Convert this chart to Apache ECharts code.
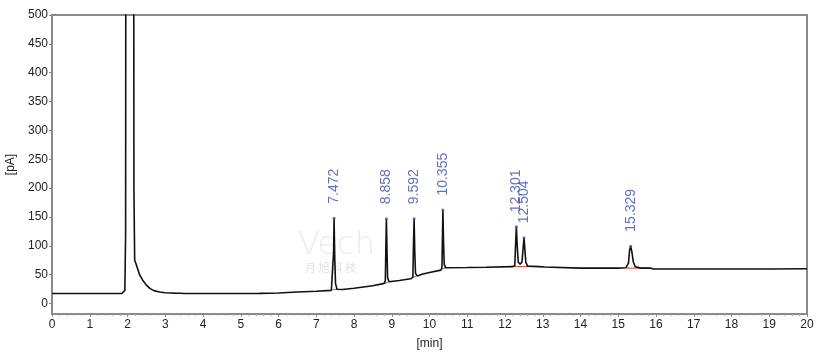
<!DOCTYPE html>
<html>
<head>
<meta charset="utf-8">
<script src="https://cdn.jsdelivr.net/npm/echarts@6/dist/echarts.min.js"></script>
<style>
  html, body { margin: 0; padding: 0; background: #fff; }
  #chart { width: 817px; height: 352px; }
</style>
</head>
<body>
<div id="chart"></div>
<script>
// detector trace, time [min] / signal [pA]
var traceTime = [0, 1.0, 1.85, 1.9, 1.93, 1.95, 1.97, 2.15, 2.17, 2.19, 2.22, 2.25, 2.27, 2.32, 2.4, 2.5, 2.6, 2.7, 2.85, 3.0, 3.15, 3.2, 3.25, 3.4, 3.5, 4.0, 4.05, 4.1, 5.0, 5.5, 6.0, 6.5, 7.0, 7.4, 7.44, 7.46, 7.472, 7.49, 7.51, 7.55, 7.7, 8.0, 8.5, 8.8, 8.83, 8.845, 8.858, 8.875, 8.89, 8.93, 9.2, 9.5, 9.56, 9.575, 9.592, 9.61, 9.63, 9.68, 9.8, 10.0, 10.3, 10.33, 10.345, 10.355, 10.37, 10.39, 10.43, 11.0, 11.5, 12.2, 12.26, 12.285, 12.301, 12.32, 12.35, 12.4, 12.45, 12.485, 12.504, 12.52, 12.55, 12.6, 12.9, 13.05, 13.1, 14.0, 15.0, 15.2, 15.27, 15.3, 15.329, 15.36, 15.4, 15.45, 15.6, 15.85, 15.92, 17.0, 18.0, 19.0, 20.0];
var traceSignal = [17.5, 17.5, 17.6, 19, 23, 120, 2000, 2000, 200, 75, 70, 68, 60, 50, 41, 32, 26, 22.5, 20, 18.8, 18.5, 20, 18.2, 18, 17.6, 17.4, 18.8, 17.4, 17.5, 17.8, 18.5, 20, 21.5, 23, 26, 90, 148, 80, 35, 25, 24.5, 26.5, 31, 35, 40, 100, 147, 90, 45, 38, 40, 43, 46, 100, 147, 90, 52, 48, 51, 54, 58, 62, 120, 162, 110, 68, 62, 62.5, 63, 64, 66, 110, 133, 105, 72, 68, 72, 100, 114, 100, 72, 65, 64, 63.5, 62, 61.5, 61.5, 62, 70, 92, 99.5, 90, 72, 64, 61.5, 61.5, 60, 60, 60, 60, 60.5];

// labelled peaks
var peakTime = [7.472, 8.858, 9.592, 10.355, 12.301, 12.504, 15.329];
var peakHeight = [148, 147, 147, 162, 133, 114, 99.5];

// integration baselines (red) under the peaks
var baseFrom = [7.43, 8.82, 9.55, 10.32, 12.24, 15.22];
var baseTo = [7.56, 8.92, 9.66, 10.42, 12.62, 15.8];
var baseFromVal = [24, 35, 45, 60, 64, 61.5];
var baseToVal = [25, 38, 48, 62, 64, 61.5];

var yTicks = [0, 50, 100, 150, 200, 250, 300, 350, 400, 450, 500];

var chart = echarts.init(document.getElementById('chart'));

var traceData = traceTime.map(function (t, i) { return [t, traceSignal[i]]; });
var peakData = peakTime.map(function (t, i) { return [t, peakHeight[i]]; });

var fontColor = '#222';
var axisColor = '#8a8a8a';
var fontFam = 'Liberation Sans, Arial, sans-serif';

var series = [{
    name: 'trace',
    type: 'line',
    data: traceData,
    showSymbol: false,
    lineStyle: { color: '#111', width: 1.6 },
    clip: true,
    silent: true,
    z: 3
}];

baseFrom.forEach(function (s, i) {
    series.push({
        type: 'line',
        data: [[s, baseFromVal[i]], [baseTo[i], baseToVal[i]]],
        showSymbol: false,
        lineStyle: { color: '#e23a2e', width: 1 },
        silent: true,
        z: 2
    });
});

series.push({
    name: 'peaks',
    type: 'scatter',
    data: peakData,
    symbolSize: 3,
    itemStyle: { color: '#3b52b4' },
    label: {
        show: true,
        position: 'top',
        distance: 13,
        rotate: 90,
        align: 'left',
        verticalAlign: 'middle',
        color: '#3b4fa8',
        fontSize: 14,
        fontFamily: fontFam,
        formatter: function (p) { return p.value[0].toFixed(3); }
    },
    z: 4
});

chart.setOption({
    animation: false,
    backgroundColor: '#fff',
    grid: {
        left: 52, right: 10, top: 15, bottom: 38,
        outerBoundsMode: 'none',
        containLabel: false,
        show: true,
        borderColor: axisColor,
        borderWidth: 2
    },
    graphic: [{
        type: 'text',
        left: 298, top: 230,
        style: { text: 'Vech', fontSize: 32, fontFamily: 'DejaVu Sans, sans-serif', fontWeight: 'lighter', fill: 'rgba(120,130,150,0.16)' }
    }, {
        type: 'text',
        left: 305, top: 262,
        style: { text: '月 旭 科 技', fontSize: 11, fontFamily: 'Noto Sans CJK SC', fill: 'rgba(120,130,150,0.25)' }
    }],
    xAxis: {
        type: 'value',
        min: 0, max: 20, interval: 1,
        name: '[min]',
        nameLocation: 'middle',
        nameGap: 24,
        nameTextStyle: { color: fontColor, fontSize: 12, fontFamily: fontFam },
        axisLine: { show: true, onZero: false, lineStyle: { color: axisColor, width: 2 } },
        axisTick: { show: true, length: 3, lineStyle: { color: axisColor } },
        minorTick: { show: true, splitNumber: 5, length: 2, lineStyle: { color: '#aaa' } },
        splitLine: { show: false },
        axisLabel: { color: fontColor, fontSize: 12, fontFamily: fontFam, margin: 5 }
    },
    yAxis: {
        type: 'value',
        min: -18, max: 500,
        name: '[pA]',
        nameLocation: 'middle',
        nameGap: 34,
        nameTextStyle: { color: fontColor, fontSize: 12, fontFamily: fontFam },
        axisLine: { show: true, onZero: false, lineStyle: { color: axisColor, width: 2 } },
        axisTick: { show: true, length: 3, customValues: yTicks, lineStyle: { color: axisColor } },
        splitLine: { show: false },
        axisLabel: { color: fontColor, fontSize: 12, fontFamily: fontFam, margin: 4, customValues: yTicks }
    },
    series: series
});
</script>
</body>
</html>
